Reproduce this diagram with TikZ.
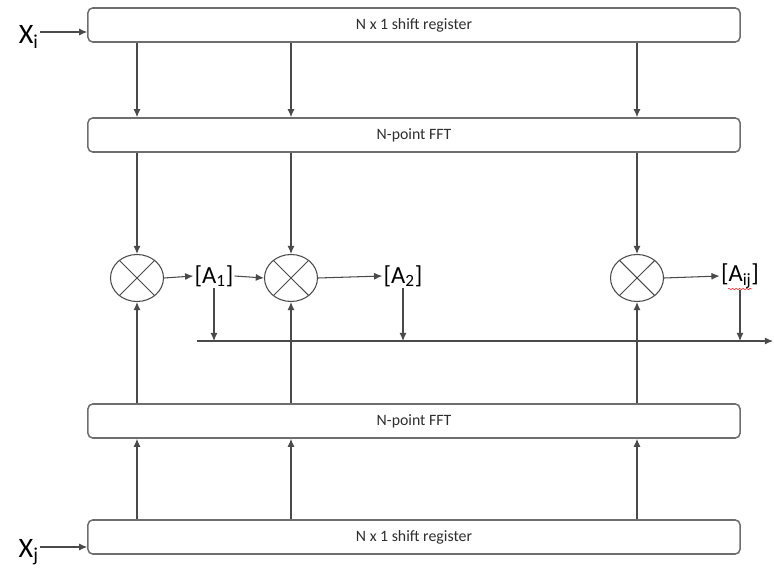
\documentclass[tikz,border=0pt]{standalone}
\usepackage{fontspec}
\setmainfont{Carlito}
\usetikzlibrary{arrows.meta,positioning,shapes.geometric,decorations.pathmorphing}
\definecolor{linegrey}{HTML}{4A4A4A}
\definecolor{boxgrey}{HTML}{6E6E6E}
\definecolor{textgrey}{HTML}{2E2E2E}
\tikzset{
  regbox/.style={draw=boxgrey,line width=1.3pt,rounded corners=4pt,
    minimum width=19.56cm,minimum height=1.02cm,inner sep=0pt,
    text=textgrey,font=\fontsize{13.5}{16}\selectfont},
  mult/.style={ellipse,draw=linegrey,line width=0.9pt,
    minimum width=1.59cm,minimum height=1.41cm,inner sep=0pt},
  coef/.style={inner sep=1pt,font=\fontsize{21}{24}\selectfont},
  inlabel/.style={inner sep=1pt,font=\fontsize{24}{28}\selectfont},
  arr/.style={draw=linegrey,line width=0.9pt,-{Latex[length=7pt,width=6pt]}},
  wire/.style={draw=linegrey,line width=0.9pt}
}
% crossed multiplier drawn inside an ellipse node
\newcommand{\multnode}[2]{%
  \node[mult] (#1) at (#2) {};
  \draw[wire] (#1.45) -- (#1.225);
  \draw[wire] (#1.135) -- (#1.315);}

\begin{document}
\begin{tikzpicture}[x=0.03cm,y=-0.03cm]
  \useasboundingbox (0,0) rectangle (774,569);

  % registers and transforms
  \node[regbox] (regi) at (414,25) {N x 1 shift register};
  \node[regbox] (ffti) at (414,135) {N-point FFT};
  \node[regbox] (fftj) at (414,421) {N-point FFT};
  \node[regbox] (regj) at (414,537) {N x 1 shift register};

  \node[inlabel,anchor=east] (xi) at (40,37) {X\textsubscript{i}};
  \node[inlabel,anchor=east] (xj) at (40,552) {X\textsubscript{j}};
  \draw[arr] (xi.east |- 0,32) -- (regi.west |- 0,32);
  \draw[arr] (xj.east |- 0,547) -- (regj.west |- 0,547);

  % multipliers
  \multnode{m1}{137,278}
  \multnode{m2}{291,278}
  \multnode{m3}{637,278}

  \node[coef] (a1) at (214,276) {[A\textsubscript{1}]};
  \node[coef] (a2) at (403,276) {[A\textsubscript{2}]};
  \node[coef] (aij) at (740,276) {[A\textsubscript{ij}]};
  \draw[red,line width=0.4pt,decorate,
    decoration={snake,amplitude=0.6pt,segment length=3pt}]
    (728,289) -- (752,289);

  \foreach \m in {m1,m2,m3}{
    \draw[arr] (\m |- regi.south) -- (\m |- ffti.north);
    \draw[arr] (\m |- ffti.south) -- (\m.north);
    \draw[arr] (\m |- fftj.north) -- (\m.south);
    \draw[arr] (\m |- regj.north) -- (\m |- fftj.south);
  }

  \draw[arr] (m1.east) -- (a1.west);
  \draw[arr] (a1.east) -- (m2.west);
  \draw[arr] (m2.east) -- (a2.west);
  \draw[arr] (m3.east) -- (aij.west);

  % summing bus
  \coordinate (busl) at (197,341);
  \coordinate (busr) at (773,341);
  \draw[arr] (busl) -- (busr);
  \foreach \a in {a1,a2,aij}
    \draw[arr] (\a.south) -- (\a |- busl);
\end{tikzpicture}
\end{document}
